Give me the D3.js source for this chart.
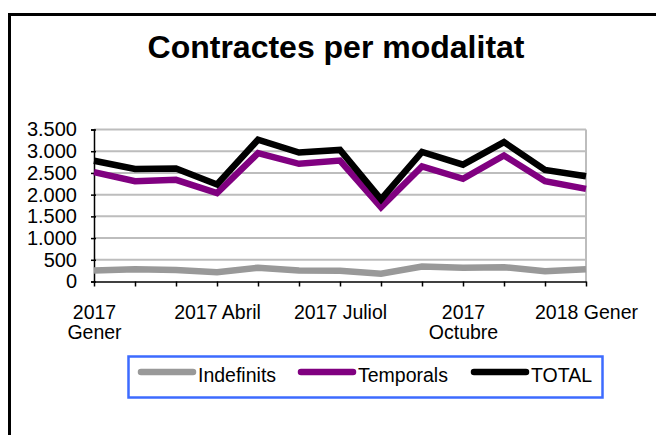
<!DOCTYPE html>
<html>
<head>
<meta charset="utf-8">
<script src="https://cdn.jsdelivr.net/npm/d3@7"></script>
<style>
  html, body { margin: 0; padding: 0; background: #fff; }
  svg { display: block; font-family: "Liberation Sans", Arial, sans-serif; }
</style>
</head>
<body>
<svg id="chart" width="656" height="435"></svg>
<script>
// ---- data ----
const months = ["2017-01","2017-02","2017-03","2017-04","2017-05","2017-06","2017-07","2017-08","2017-09","2017-10","2017-11","2017-12","2018-01"];
const xTickLabels = ["2017\nGener","","","2017 Abril","","","2017 Juliol","","","2017\nOctubre","","","2018 Gener"];
const indefinits = [253, 283, 262, 214, 318, 253, 246, 177, 345, 315, 330, 237, 283];
const temporals  = [2517, 2310, 2341, 2035, 2954, 2710, 2786, 1711, 2648, 2364, 2901, 2310, 2134];
const total      = [2780, 2590, 2600, 2235, 3265, 2970, 3030, 1890, 2985, 2690, 3210, 2570, 2425];
const yTicks = [0, 500, 1000, 1500, 2000, 2500, 3000, 3500];
const seriesNames = ["Indefinits", "Temporals", "TOTAL"];
const seriesColors = ["#999999", "#800080", "#000000"];
const chartTitle = "Contractes per modalitat";

(function () {
const svg = d3.select("#chart");
const fmt = d3.formatLocale({decimal: ",", thousands: ".", grouping: [3], currency: ["", "€"]}).format(",d");

// outer frame
svg.append("rect").attr("x", 9.5).attr("y", 14.5).attr("width", 700).attr("height", 500)
  .attr("fill", "none").attr("stroke", "#000").attr("stroke-width", 3);

// title
svg.append("text").attr("x", 336).attr("y", 58).attr("text-anchor", "middle")
  .attr("font-size", 32).attr("font-weight", "bold").attr("fill", "#000").text(chartTitle);

const pL = 94, pR = 586, pT = 129.5, pB = 281.5;
const x = d3.scalePoint().domain(months).range([pL, pR]);
const y = d3.scaleLinear().domain([0, 3500]).range([pB, pT]);

// gridlines
svg.append("g").selectAll("line").data(yTicks.filter(d => d > 0)).join("line")
  .attr("x1", pL).attr("x2", pR).attr("y1", d => y(d)).attr("y2", d => y(d))
  .attr("stroke", "#bdbdbd").attr("stroke-width", 2);
// right border of plot
svg.append("line").attr("x1", pR).attr("x2", pR).attr("y1", pT).attr("y2", pB)
  .attr("stroke", "#bdbdbd").attr("stroke-width", 2);

// y axis
const yAxis = svg.append("g").attr("transform", `translate(${pL},0)`)
  .call(d3.axisLeft(y).tickValues(yTicks).tickSize(3).tickPadding(14).tickFormat(fmt));
yAxis.select(".domain").attr("stroke", "#000").attr("stroke-width", 1.5);
yAxis.selectAll(".tick line").attr("stroke", "#000").attr("stroke-width", 1.5).attr("x2", -3).attr("x1", 2);
yAxis.selectAll(".tick text").attr("font-size", 20).attr("fill", "#000")
  .attr("font-family", "Liberation Sans, Arial, sans-serif");

// x axis
const xAxis = svg.append("g").attr("transform", `translate(0,${pB})`)
  .call(d3.axisBottom(x).tickSize(5).tickSizeOuter(0).tickFormat(() => ""));
xAxis.select(".domain").attr("stroke", "#000").attr("stroke-width", 1.5);
xAxis.selectAll(".tick line").attr("stroke", "#000").attr("stroke-width", 1.5);
xAxis.selectAll(".tick").each(function(d, i) {
  const lines = xTickLabels[i].split("\n").filter(s => s.length);
  const t = d3.select(this).select("text").text(null)
    .attr("font-size", 19.5).attr("fill", "#000").attr("y", 0).attr("dy", null)
    .attr("font-family", "Liberation Sans, Arial, sans-serif");
  lines.forEach((s, k) => {
    t.append("tspan").attr("x", 0).attr("y", 37 + k * 20.5).text(s);
  });
});

// lines
const allSeries = [indefinits, temporals, total];
const lineGen = d3.line().x((d, i) => x(months[i])).y(d => y(d));
allSeries.forEach((s, k) => {
  svg.append("path").datum(s).attr("d", lineGen)
    .attr("fill", "none").attr("stroke", seriesColors[k]).attr("stroke-width", 6.5)
    .attr("stroke-linejoin", "miter").attr("stroke-miterlimit", 4);
});

// legend
svg.append("rect").attr("x", 128.5).attr("y", 356.5).attr("width", 474).attr("height", 41)
  .attr("fill", "#fff").attr("stroke", "#3d6bff").attr("stroke-width", 2.5);
const legX = [138, 298, 471];
seriesNames.forEach((n, k) => {
  svg.append("line").attr("x1", legX[k] + 3).attr("x2", legX[k] + 55).attr("y1", 372).attr("y2", 372)
    .attr("stroke", seriesColors[k]).attr("stroke-width", 6.5).attr("stroke-linecap", "round");
  svg.append("text").attr("x", legX[k] + 60).attr("y", 382).attr("font-size", 19.5)
    .attr("fill", "#000").text(n);
});
})();
</script>
</body>
</html>
